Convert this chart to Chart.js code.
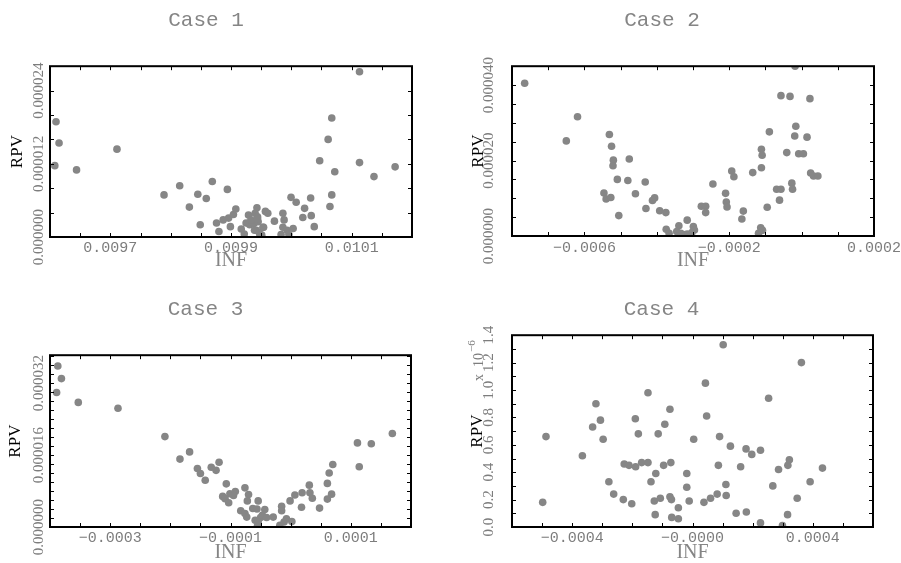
<!DOCTYPE html>
<html><head><meta charset="utf-8">
<script src="https://cdn.jsdelivr.net/npm/chart.js@4.4.1/dist/chart.umd.min.js"></script>
<style>
html,body{margin:0;padding:0;width:901px;height:563px;overflow:hidden;background:#fff;}
.p{position:absolute;}
canvas{display:block;}
</style></head><body>
<div class="p" style="left:0;top:0"><canvas id="c1" width="472" height="280"></canvas></div>
<div class="p" style="left:450px;top:0"><canvas id="c2" width="498" height="280"></canvas></div>
<div class="p" style="left:0;top:280px"><canvas id="c3" width="474" height="283"></canvas></div>
<div class="p" style="left:450px;top:280px"><canvas id="c4" width="498" height="283"></canvas></div>
<script>
// ---------- Case 1 ----------
const case1X = [0.00961,0.009615,0.009608,0.009644,0.009711,0.009789,0.009815,0.009831,0.009845,0.009849,0.009859,0.009869,0.009876,0.00988,0.009887,0.009894,0.009896,0.009899,0.009904,0.009908,0.009917,0.009922,0.009925,0.009929,0.009931,0.009938,0.00994,0.009943,0.009944,0.009945,0.009942,0.009947,0.009951,0.009954,0.009957,0.009961,0.009972,0.009986,0.009988,0.009986,0.009983,0.009993,0.009996,0.0099995,0.010003,0.010008,0.010019,0.010022,0.010032,0.010033,0.010038,0.010047,0.010061,0.010067,0.010064,0.010067,0.010072,0.010113,0.010113,0.010137,0.010172,0.009933,0.009944,0.009939,0.009953];
const case1Y = [18.9e-6,15.4e-6,11.7e-6,11.0e-6,14.4e-6,6.9e-6,8.4e-6,4.9e-6,7.0e-6,2.0e-6,6.3e-6,9.1e-6,2.3e-6,0.9e-6,2.8e-6,7.8e-6,3.1e-6,1.7e-6,3.7e-6,4.6e-6,1.3e-6,0.5e-6,2.3e-6,3.6e-6,2.0e-6,2.2e-6,3.9e-6,4.8e-6,3.3e-6,2.5e-6,1.1e-6,0.6e-6,0.3e-6,1.6e-6,4.2e-6,3.9e-6,2.6e-6,3.9e-6,2.8e-6,1.6e-6,0.4e-6,1.1e-6,0.4e-6,6.5e-6,1.4e-6,5.7e-6,3.2e-6,4.7e-6,6.4e-6,3.5e-6,1.7e-6,12.5e-6,16.0e-6,19.5e-6,5.0e-6,6.9e-6,10.7e-6,27.1e-6,12.2e-6,9.9e-6,11.5e-6,2.8e-6,3.0e-6,1.1e-6,1.6e-6];
const case1XRange = [0.0096, 0.0102];
const case1XTicks = [0.0097, 0.0099, 0.0101];
const case1XLabels = ['0.0097', '0.0099', '0.0101'];
const case1XMinor = 0.00005;
const case1YRange = [0, 28e-6];
const case1YTicks = [0, 12e-6, 24e-6];
const case1YLabels = ['0.000000', '0.000012', '0.000024'];
const case1YMinor = 4e-6;

// ---------- Case 2 ----------
const case2X = [-765e-6,-619e-6,-650e-6,-531e-6,-525e-6,-520e-6,-521e-6,-476e-6,-509e-6,-480e-6,-432e-6,-546e-6,-540e-6,-527e-6,-459e-6,-406e-6,-412e-6,-505e-6,-430e-6,-392e-6,-375e-6,-374e-6,-366e-6,-339e-6,-345e-6,-326e-6,-316e-6,-299e-6,-296e-6,-303e-6,-277e-6,-265e-6,-265e-6,-245e-6,-210e-6,-208e-6,-206e-6,-193e-6,-187e-6,-165e-6,-161e-6,-135e-6,-119e-6,-113e-6,-108e-6,-111e-6,-109e-6,-111e-6,-95e-6,-89e-6,-69e-6,-57e-6,-61e-6,-57e-6,-41e-6,-32e-6,-27e-6,-25e-6,-18e-6,-16e-6,-19e-6,-8e-6,5e-6,15e-6,23e-6,25e-6,33e-6,45e-6,-316e-6,-334e-6];
const case2Y = [40.5e-6,31.6e-6,25.2e-6,26.9e-6,23.8e-6,20.1e-6,18.6e-6,20.4e-6,15.0e-6,14.7e-6,14.3e-6,11.4e-6,9.8e-6,10.2e-6,11.2e-6,10.1e-6,9.4e-6,5.4e-6,7.3e-6,6.7e-6,6.2e-6,1.8e-6,0.7e-6,2.7e-6,1.2e-6,0.4e-6,4.2e-6,2.5e-6,1.6e-6,0.9e-6,7.9e-6,7.9e-6,6.2e-6,13.8e-6,11.3e-6,9.0e-6,7.7e-6,17.2e-6,15.7e-6,4.5e-6,6.6e-6,16.8e-6,0.7e-6,2.2e-6,1.5e-6,23.0e-6,21.4e-6,18.1e-6,7.6e-6,27.6e-6,12.4e-6,12.4e-6,9.5e-6,37.2e-6,22.1e-6,37.0e-6,14.0e-6,12.4e-6,45.0e-6,29.1e-6,26.5e-6,21.8e-6,21.8e-6,26.2e-6,36.4e-6,16.7e-6,15.9e-6,15.9e-6,0.5e-6,0.7e-6];
const case2XRange = [-0.0008, 0.0002];
const case2XTicks = [-0.0006, -0.0002, 0.0002];
const case2XLabels = ['\u22120.0006', '\u22120.0002', '0.0002'];
const case2XMinor = 0.0001;
const case2YRange = [0, 45e-6];
const case2YTicks = [0, 20e-6, 40e-6];
const case2YLabels = ['0.000000', '0.000020', '0.000040'];
const case2YMinor = 5e-6;

// ---------- Case 3 ----------
const case3X = [-387e-6,-381e-6,-389e-6,-353e-6,-287e-6,-209e-6,-184e-6,-168e-6,-155e-6,-150e-6,-142e-6,-132e-6,-124e-6,-119e-6,-107e-6,-113e-6,-109e-6,-103e-6,-101e-6,-92e-6,-95e-6,-76e-6,-70e-6,-72e-6,-54e-6,-83e-6,-76e-6,-73e-6,-63e-6,-56e-6,-59e-6,-55e-6,-50e-6,-47e-6,-43e-6,-40e-6,-29e-6,-54e-6,-18e-6,-15e-6,-15e-6,-11e-6,-7e-6,2e-6,-1e-6,7e-6,18e-6,19e-6,31e-6,32e-6,36e-6,48e-6,61e-6,61e-6,64e-6,68e-6,70e-6,111e-6,114e-6,134e-6,169e-6];
const case3Y = [35.8e-6,33.0e-6,29.9e-6,27.7e-6,26.4e-6,20.1e-6,15.1e-6,16.7e-6,13.0e-6,11.9e-6,10.4e-6,13.3e-6,12.6e-6,14.4e-6,9.6e-6,6.8e-6,6.3e-6,5.4e-6,7.4e-6,7.9e-6,7.0e-6,8.7e-6,7.2e-6,5.8e-6,5.8e-6,3.6e-6,3.0e-6,2.2e-6,4.1e-6,4.0e-6,1.5e-6,0.4e-6,2.1e-6,2.6e-6,3.9e-6,2.1e-6,2.2e-6,1.1e-6,0.4e-6,4.6e-6,3.6e-6,1.1e-6,1.8e-6,1.2e-6,5.8e-6,7.1e-6,4.4e-6,7.6e-6,9.3e-6,7.6e-6,6.4e-6,4.2e-6,9.7e-6,6.2e-6,12.0e-6,7.3e-6,13.9e-6,18.7e-6,13.4e-6,18.5e-6,20.8e-6];
const case3XRange = [-0.0004, 0.0002];
const case3XTicks = [-0.0003, -0.0001, 0.0001];
const case3XLabels = ['\u22120.0003', '\u22120.0001', '0.0001'];
const case3XMinor = 0.00005;
const case3YRange = [0, 38.2e-6];
const case3YTicks = [0, 16e-6, 32e-6];
const case3YLabels = ['0.000000', '0.000016', '0.000032'];
const case3YMinor = 2e-6;

// ---------- Case 4 ----------
const case4X = [-498e-6,-487e-6,-366e-6,-332e-6,-321e-6,-306e-6,-297e-6,-278e-6,-262e-6,-230e-6,-227e-6,-211e-6,-202e-6,-189e-6,-190e-6,-180e-6,-169e-6,-148e-6,-148e-6,-138e-6,-127e-6,-124e-6,-122e-6,-114e-6,-107e-6,-96e-6,-92e-6,-75e-6,-72e-6,-75e-6,-70e-6,-69e-6,-47e-6,-47e-6,-19e-6,-19e-6,-11e-6,4e-6,38e-6,43e-6,47e-6,60e-6,82e-6,86e-6,90e-6,102e-6,111e-6,112e-6,126e-6,145e-6,160e-6,178e-6,179e-6,197e-6,226e-6,226e-6,253e-6,267e-6,286e-6,299e-6,316e-6,317e-6,322e-6,348e-6,362e-6,391e-6,432e-6];
const case4Y = [0.18e-6,0.66e-6,0.52e-6,0.73e-6,0.90e-6,0.78e-6,0.64e-6,0.33e-6,0.24e-6,0.20e-6,0.46e-6,0.45e-6,0.17e-6,0.44e-6,0.79e-6,0.68e-6,0.47e-6,0.98e-6,0.47e-6,0.33e-6,0.19e-6,0.09e-6,0.39e-6,0.68e-6,0.21e-6,0.45e-6,0.75e-6,0.86e-6,0.47e-6,0.22e-6,0.20e-6,0.07e-6,0.06e-6,0.14e-6,0.39e-6,0.29e-6,0.19e-6,0.64e-6,0.18e-6,1.05e-6,0.81e-6,0.21e-6,0.24e-6,0.45e-6,0.66e-6,1.33e-6,0.31e-6,0.23e-6,0.59e-6,0.10e-6,0.44e-6,0.57e-6,0.11e-6,0.53e-6,0.56e-6,0.03e-6,0.94e-6,0.30e-6,0.42e-6,0.01e-6,0.09e-6,0.45e-6,0.49e-6,0.21e-6,1.20e-6,0.33e-6,0.43e-6];
const case4XRange = [-0.0006, 0.0006];
const case4XTicks = [-0.0004, 0.0, 0.0004];
const case4XLabels = ['\u22120.0004', '\u22120.0000', '0.0004'];
const case4XMinor = 0.0001;
const case4YRange = [0, 1.4e-6];
const case4YTicks = [0, 0.2e-6, 0.4e-6, 0.6e-6, 0.8e-6, 1.0e-6, 1.2e-6, 1.4e-6];
const case4YLabels = ['0.0', '0.2', '0.4', '0.6', '0.8', '1.0', '1.2', '1.4'];
const case4YMinor = 0.1e-6;

const TICK_GREY = '#7d7d7d';
const POINT_GREY = '#868686';

const framePlugin = {
  id: 'frame',
  afterDatasetsDraw(chart, args, o) {
    const ctx = chart.ctx;
    const a = chart.chartArea;
    const xs = chart.scales.x, ys = chart.scales.y;
    ctx.save();
    ctx.strokeStyle = '#000';
    ctx.lineWidth = 1;
    const L = 4;
    for (let i = 1; ; i++) {
      const v = xs.min + i * o.xMinor;
      if (v > xs.max - o.xMinor * 0.01) break;
      const px = Math.round(xs.getPixelForValue(v)) + 0.5;
      ctx.beginPath();
      ctx.moveTo(px, a.bottom); ctx.lineTo(px, a.bottom - L);
      ctx.moveTo(px, a.top); ctx.lineTo(px, a.top + L);
      ctx.stroke();
    }
    for (let i = 1; ; i++) {
      const v = ys.min + i * o.yMinor;
      if (v > ys.max - o.yMinor * 0.01) break;
      const py = Math.round(ys.getPixelForValue(v)) + 0.5;
      ctx.beginPath();
      ctx.moveTo(a.left, py); ctx.lineTo(a.left + L, py);
      ctx.moveTo(a.right, py); ctx.lineTo(a.right - L, py);
      ctx.stroke();
    }
    ctx.lineWidth = 2;
    ctx.strokeRect(a.left, a.top, a.right - a.left, a.bottom - a.top);
    ctx.fillStyle = TICK_GREY;
    ctx.font = '15px "Liberation Serif"';
    ctx.textAlign = 'center';
    ctx.textBaseline = 'middle';
    o.yTicks.forEach((v, i) => {
      const py = ys.getPixelForValue(v);
      ctx.save();
      ctx.translate(o.yLabelX, py);
      ctx.rotate(-Math.PI / 2);
      ctx.fillText(o.yLabels[i], 0, 1);
      ctx.restore();
    });
    if (o.mult) {
      ctx.save();
      ctx.translate(o.mult.x, o.mult.y);
      ctx.rotate(-Math.PI / 2);
      ctx.textAlign = 'left';
      ctx.font = '14px "Liberation Serif"';
      ctx.fillText('x  10', 0, 0);
      const w = ctx.measureText('x  10').width;
      ctx.font = '11px "Liberation Serif"';
      ctx.fillText('\u22126', w + 1, -7);
      ctx.restore();
    }
    ctx.restore();
  }
};

function makeChart(id, c) {
  const data = c.x.map((v, i) => ({x: v, y: c.y[i]}));
  return new Chart(document.getElementById(id), {
    type: 'scatter',
    data: { datasets: [{ data, backgroundColor: POINT_GREY, borderWidth: 0, pointRadius: 3.8, pointHoverRadius: 3.8 }] },
    plugins: [framePlugin],
    options: {
      responsive: false, animation: false, devicePixelRatio: 1, events: [],
      layout: { padding: { left: 0, right: c.padRight, top: 0, bottom: 0 } },
      plugins: {
        legend: { display: false }, tooltip: { enabled: false },
        title: { display: true, text: c.title, color: '#858585',
                 font: { family: 'Liberation Mono', size: 21, weight: 'normal' },
                 padding: { top: c.titleTop, bottom: c.titleBottom } },
        frame: { xMinor: c.xMinor, yMinor: c.yMinor, yTicks: c.yTicks, yLabels: c.yLabels, yLabelX: 38, mult: c.mult }
      },
      scales: {
        x: {
          type: 'linear', min: c.xRange[0], max: c.xRange[1],
          grid: { display: false, drawTicks: false }, border: { display: false },
          afterBuildTicks: s => { s.ticks = c.xTicks.map(v => ({ value: v })); },
          afterFit: s => { s.height = c.xAxisH; },
          ticks: { autoSkip: false, maxRotation: 0, minRotation: 0, padding: c.xTickPad, color: TICK_GREY,
                   font: { family: 'Liberation Mono', size: 15 },
                   callback: (v, i) => c.xLabels[i] },
          title: { display: true, text: 'INF', color: '#858585',
                   font: { family: 'Liberation Serif', size: 20, lineHeight: 1 }, padding: { top: 0, bottom: c.infPad } }
        },
        y: {
          type: 'linear', min: c.yRange[0], max: c.yRange[1],
          grid: { display: false, drawTicks: false }, border: { display: false },
          afterBuildTicks: s => { s.ticks = c.yTicks.map(v => ({ value: v })); },
          afterFit: s => { s.width = c.yAxisW; },
          ticks: { display: false },
          title: { display: true, text: 'RPV', color: '#000',
                   font: { family: 'Liberation Serif', size: 17 }, padding: { top: c.rpvPad, bottom: 0 } }
        }
      }
    }
  });
}

makeChart('c1', { title: 'Case 1', x: case1X, y: case1Y, xRange: case1XRange, xTicks: case1XTicks, xLabels: case1XLabels, xMinor: case1XMinor,
  yRange: case1YRange, yTicks: case1YTicks, yLabels: case1YLabels, yMinor: case1YMinor,
  padRight: 60, titleTop: 8, titleBottom: 33, xAxisH: 43, yAxisW: 50, xTickPad: 2, infPad: 9, rpvPad: 7 });
makeChart('c2', { title: 'Case 2', x: case2X, y: case2Y, xRange: case2XRange, xTicks: case2XTicks, xLabels: case2XLabels, xMinor: case2XMinor,
  yRange: case2YRange, yTicks: case2YTicks, yLabels: case2YLabels, yMinor: case2YMinor,
  padRight: 74, titleTop: 8, titleBottom: 33, xAxisH: 44, yAxisW: 62, xTickPad: 3, infPad: 9, rpvPad: 18 });
makeChart('c3', { title: 'Case 3', x: case3X, y: case3Y, xRange: case3XRange, xTicks: case3XTicks, xLabels: case3XLabels, xMinor: case3XMinor,
  yRange: case3YRange, yTicks: case3YTicks, yLabels: case3YLabels, yMinor: case3YMinor,
  padRight: 63, titleTop: 17, titleBottom: 33, xAxisH: 36, yAxisW: 50, xTickPad: 2, infPad: 0, rpvPad: 5 });
makeChart('c4', { title: 'Case 4', x: case4X, y: case4Y, xRange: case4XRange, xTicks: case4XTicks, xLabels: case4XLabels, xMinor: case4XMinor,
  yRange: case4YRange, yTicks: case4YTicks, yLabels: case4YLabels, yMinor: case4YMinor,
  padRight: 75, titleTop: 17, titleBottom: 13, xAxisH: 36, yAxisW: 62, xTickPad: 2, infPad: 0, rpvPad: 17,
  mult: { x: 29, y: 101 } });
</script>
</body></html>
